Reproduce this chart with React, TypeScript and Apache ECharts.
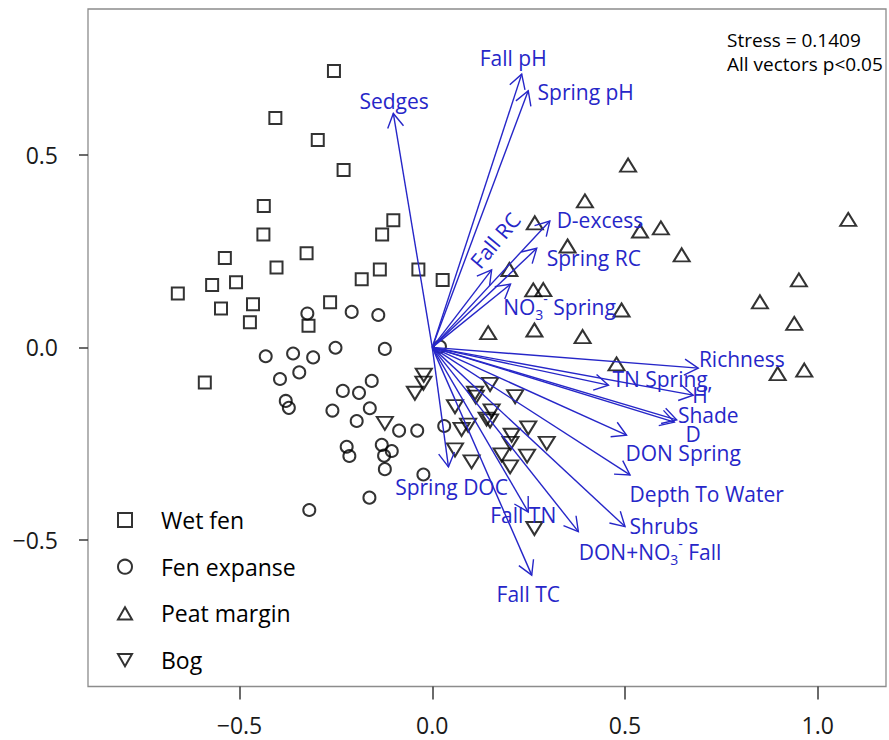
import React, { useEffect, useRef } from 'react';
import * as echarts from 'echarts';

const FONT = "'Open Sans', 'Noto Sans', sans-serif";
const BLUE = '#2626c8';
const INK = '#000000';
const FRAME = '#8c8c8c';
const TICK = '#3a3a3a';

const groups = ['Wet fen', 'Fen expanse', 'Peat margin', 'Bog'];

const wetFen: [number, number][] = [
  [-0.255, 0.717], [-0.407, 0.595], [-0.297, 0.538], [-0.230, 0.460], [-0.437, 0.367],
  [-0.438, 0.293], [-0.101, 0.330], [-0.130, 0.293], [-0.538, 0.232], [-0.326, 0.244],
  [-0.404, 0.207], [-0.136, 0.202], [-0.036, 0.202], [-0.183, 0.177], [0.027, 0.175],
  [-0.660, 0.140], [-0.571, 0.162], [-0.509, 0.169], [-0.548, 0.101], [-0.465, 0.112],
  [-0.473, 0.065], [-0.265, 0.117], [-0.321, 0.056], [-0.590, -0.091],
];

const fenExpanse: [number, number][] = [
  [-0.324, 0.088], [-0.209, 0.092], [-0.140, 0.084], [-0.251, -0.001], [-0.123, -0.004],
  [0.020, 0.002], [-0.432, -0.023], [-0.361, -0.016], [-0.309, -0.026], [-0.395, -0.082],
  [-0.345, -0.065], [-0.380, -0.139], [-0.372, -0.157], [-0.259, -0.164], [-0.232, -0.113],
  [-0.190, -0.118], [-0.157, -0.087], [-0.162, -0.158], [-0.196, -0.191], [-0.086, -0.216],
  [-0.039, -0.216], [0.031, -0.204], [-0.222, -0.258], [-0.215, -0.282], [-0.131, -0.253],
  [-0.105, -0.269], [-0.125, -0.281], [-0.123, -0.316], [-0.023, -0.330], [-0.163, -0.390],
  [-0.319, -0.422],
];

const peatMargin: [number, number][] = [
  [0.508, 0.473], [0.396, 0.380], [0.266, 0.323], [0.539, 0.302], [0.593, 0.310],
  [1.079, 0.332], [0.351, 0.263], [0.647, 0.240], [0.200, 0.202], [0.951, 0.175],
  [0.262, 0.149], [0.288, 0.150], [0.850, 0.118], [0.491, 0.097], [0.939, 0.062],
  [0.145, 0.038], [0.265, 0.045], [0.390, 0.028], [0.478, -0.043], [0.896, -0.068],
  [0.965, -0.059],
];

const bog: [number, number][] = [
  [-0.022, -0.072], [-0.023, -0.093], [-0.045, -0.119], [-0.123, -0.197], [0.150, -0.096],
  [0.111, -0.119], [0.113, -0.129], [0.215, -0.128], [0.059, -0.154], [0.154, -0.165],
  [0.150, -0.191], [0.141, -0.186], [0.093, -0.202], [0.076, -0.213], [0.249, -0.209],
  [0.206, -0.228], [0.203, -0.249], [0.297, -0.249], [0.059, -0.266], [0.180, -0.279],
  [0.246, -0.282], [0.102, -0.297], [0.202, -0.310], [0.265, -0.470],
];

// envfit vectors: name, arrow tip (NMDS1, NMDS2)
const vectorNames = [
  'Sedges', 'Fall pH', 'Spring pH', 'Fall RC', 'D-excess', 'Spring RC', 'NO{sub|3}{sup|-} Spring',
  'Richness', 'TN Spring', 'H\u2019', 'Shade', 'D', 'DON Spring', 'Depth To Water', 'Shrubs',
  'DON+NO{sub|3}{sup|-} Fall', 'Fall TN', 'Fall TC', 'Spring DOC',
];
const vectorTips: [number, number][] = [
  [-0.101, 0.607], [0.232, 0.709], [0.249, 0.666], [0.154, 0.201], [0.305, 0.328],
  [0.271, 0.257], [0.203, 0.164], [0.690, -0.054], [0.457, -0.098], [0.677, -0.124],
  [0.634, -0.188], [0.628, -0.194], [0.504, -0.228], [0.513, -0.331], [0.500, -0.465],
  [0.379, -0.478], [0.249, -0.427], [0.258, -0.591], [0.042, -0.310],
];
// label anchors (NMDS units) and rotation in degrees
const labelAnchors: [number, number][] = [
  [-0.099, 0.640], [0.210, 0.750], [0.398, 0.663], [0.163, 0.278], [0.435, 0.330],
  [0.419, 0.233], [0.330, 0.105], [0.803, -0.031], [0.591, -0.083], [0.699, -0.124],
  [0.716, -0.176], [0.677, -0.226], [0.651, -0.273], [0.712, -0.381], [0.601, -0.463],
  [0.565, -0.530], [0.236, -0.435], [0.249, -0.641], [0.050, -0.362],
];
const labelRotation = [0, 0, 0, 50, 0, 0, 0, 0, 0, 0, 0, 0, 0, 0, 0, 0, 0, 0, 0];

const xRange = [-0.893, 1.177];
const yRange = [-0.880, 0.878];
const xTicks = [-0.5, 0, 0.5, 1.0];
const yTicks = [-0.5, 0, 0.5];
const statsText = ['Stress = 0.1409', 'All vectors p<0.05'];

const fmt = (v: number) => (Math.abs(v) < 1e-9 ? '0.0' : v.toFixed(1).replace('-', '\u2212'));

export default function App() {
  const ref = useRef<HTMLDivElement>(null);
  useEffect(() => {
    if (!ref.current) return;
    const chart = echarts.init(ref.current, undefined, { renderer: 'svg' });
    const markerStyle = { color: 'transparent', borderColor: INK, borderWidth: 2 };
    const symbols = [
      { symbol: 'rect', size: [12, 12] },
      { symbol: 'circle', size: 12 },
      { symbol: 'path://M5,0L10,8.66L0,8.66Z', size: [16, 13] },
      { symbol: 'path://M0,0L10,0L5,8.66Z', size: [16, 13] },
    ];
    const sets = [wetFen, fenExpanse, peatMargin, bog];
    const pointSeries = groups.map((g, i) => ({
      type: 'scatter',
      name: g,
      data: sets[i],
      symbol: symbols[i].symbol,
      symbolSize: symbols[i].size,
      itemStyle: markerStyle,
      z: 2,
      silent: true,
    }));

    const option: any = {
      animation: false,
      backgroundColor: '#ffffff',
      grid: {
        left: 88, top: 9, right: 3, bottom: 53.5,
        show: true, borderColor: FRAME, borderWidth: 1.3, backgroundColor: 'transparent',
      },
      xAxis: {
        type: 'value', min: xRange[0], max: xRange[1],
        axisLine: { show: false, onZero: false },
        splitLine: { show: false },
        axisTick: { show: true, customValues: xTicks, length: 13, lineStyle: { color: TICK, width: 1.5 } },
        axisLabel: {
          customValues: xTicks, margin: 27, formatter: fmt,
          fontSize: 23, lineHeight: 23, fontFamily: FONT, color: '#1a1a1a',
        },
      },
      yAxis: {
        type: 'value', min: yRange[0], max: yRange[1],
        axisLine: { show: false, onZero: false },
        splitLine: { show: false },
        axisTick: { show: true, customValues: yTicks, length: 9, lineStyle: { color: TICK, width: 1.5 } },
        axisLabel: {
          customValues: yTicks, margin: 30, formatter: fmt,
          fontSize: 23, fontFamily: FONT, color: '#1a1a1a',
        },
      },
      legend: {
        orient: 'vertical', left: 112, top: 503,
        itemWidth: 14, itemHeight: 14, itemGap: 22.7,
        data: groups,
        selectedMode: false,
        itemStyle: { color: 'transparent', borderColor: INK, borderWidth: 2 },
        textStyle: { fontSize: 23, fontFamily: FONT, color: INK, lineHeight: 24, padding: [0, 0, 0, 24] },
      },
      graphic: [
        {
          type: 'text', left: 727, top: 28,
          style: { text: statsText.join('\n'), fontSize: 19, lineHeight: 24, fontFamily: FONT, fill: INK },
        },
      ],
      series: [
        ...pointSeries,
        {
          type: 'custom',
          name: 'vectors',
          z: 3,
          silent: true,
          data: vectorTips,
          renderItem: (params: any, api: any) => {
            const o = api.coord([0, 0]);
            const t = api.coord([api.value(0), api.value(1)]);
            const ang = Math.atan2(t[1] - o[1], t[0] - o[0]);
            const L = 16;
            const a = Math.PI / 6;
            const h1 = [t[0] - L * Math.cos(ang - a), t[1] - L * Math.sin(ang - a)];
            const h2 = [t[0] - L * Math.cos(ang + a), t[1] - L * Math.sin(ang + a)];
            return {
              type: 'group',
              children: [
                { type: 'line', shape: { x1: o[0], y1: o[1], x2: t[0], y2: t[1] }, style: { stroke: BLUE, lineWidth: 1.4 } },
                { type: 'polyline', shape: { points: [h1, t, h2] }, style: { stroke: BLUE, fill: null, lineWidth: 1.4 } },
              ],
            };
          },
        },
        {
          type: 'custom',
          name: 'vectorLabels',
          z: 4,
          silent: true,
          data: labelAnchors,
          renderItem: (params: any, api: any) => {
            const i = params.dataIndex;
            const c = api.coord([api.value(0), api.value(1)]);
            return {
              type: 'text',
              x: c[0], y: c[1],
              rotation: (labelRotation[i] * Math.PI) / 180,
              style: {
                text: vectorNames[i],
                fontSize: 21, lineHeight: 30, fontFamily: FONT, fill: BLUE,
                align: 'center', verticalAlign: 'middle',
                rich: {
                  sub: { fontSize: 14, lineHeight: 14, verticalAlign: 'bottom', fontFamily: FONT, fill: BLUE },
                  sup: { fontSize: 14, lineHeight: 14, verticalAlign: 'top', fontFamily: FONT, fill: BLUE },
                },
              },
            };
          },
        },
      ],
    };
    chart.setOption(option);
    return () => chart.dispose();
  }, []);
  return (
    <div
      ref={ref}
      style={{ position: 'fixed', left: 0, top: 0, width: 889, height: 740, background: '#fff' }}
    />
  );
}
